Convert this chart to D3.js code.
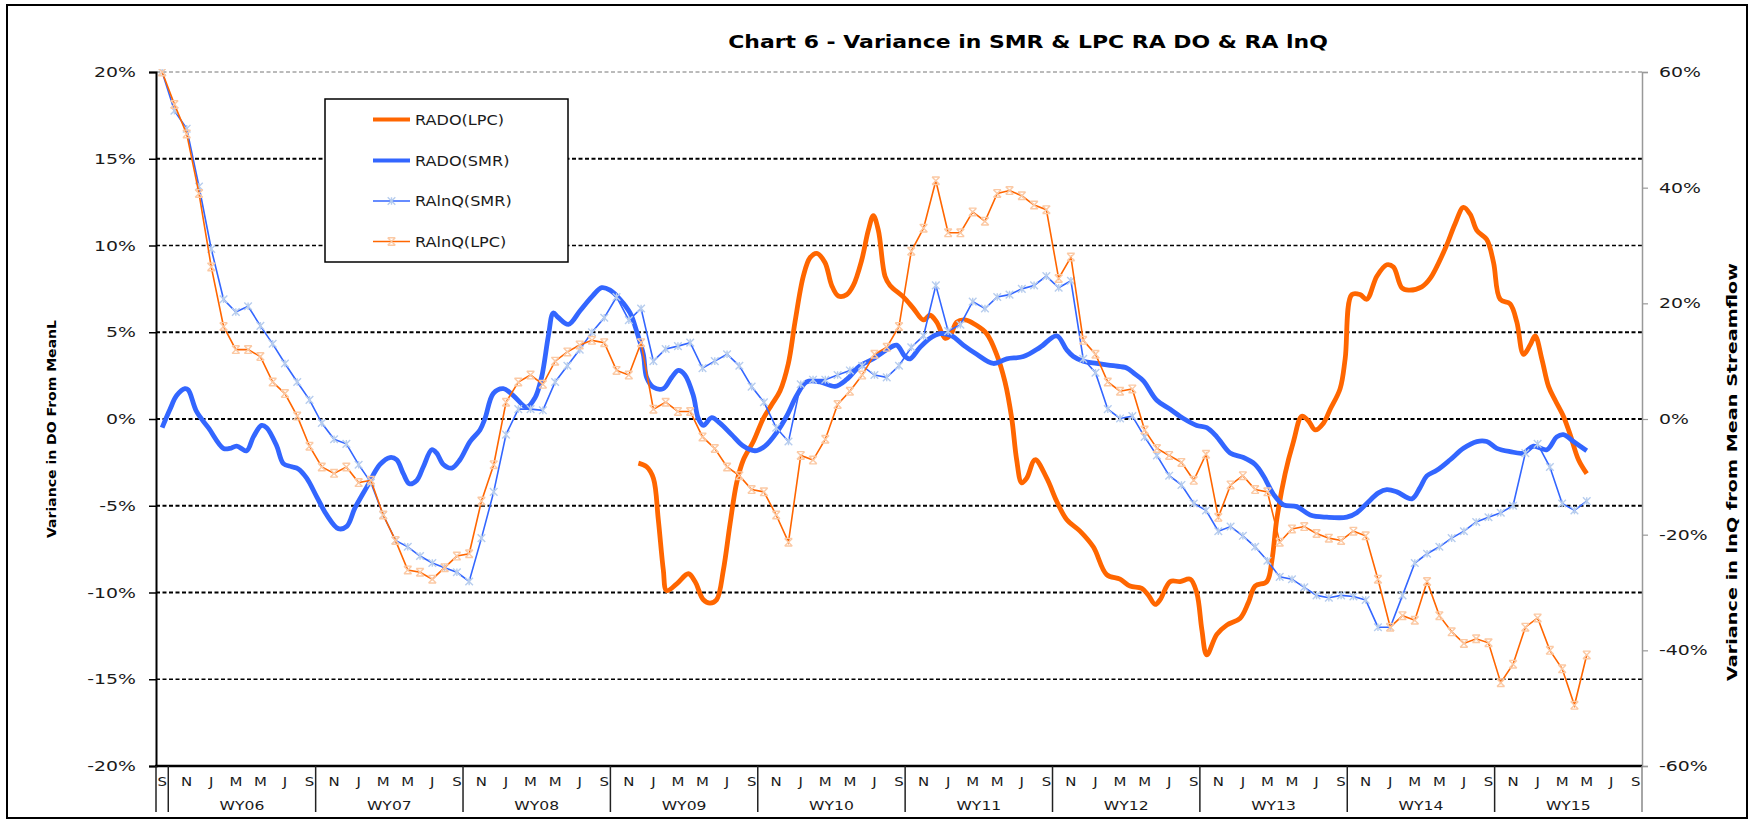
<!DOCTYPE html>
<html><head><meta charset="utf-8">
<script src="https://cdn.jsdelivr.net/npm/d3@7"></script>
<style>
body{margin:0;background:#fff;}
text{font-family:"DejaVu Sans",Verdana,sans-serif;}
</style>
</head><body>
<svg id="chart" width="1754" height="821"></svg>
<script>
// ---------- DATA ----------
const chartTitle = "Chart 6 - Variance in SMR & LPC RA DO & RA lnQ";
const leftAxisTitle = "Variance in DO From MeanL";
const rightAxisTitle = "Variance in lnQ from Mean Streamflow";
const seriesNames = ["RADO(LPC)", "RADO(SMR)", "RAlnQ(SMR)", "RAlnQ(LPC)"];
const waterYears = ["WY06","WY07","WY08","WY09","WY10","WY11","WY12","WY13","WY14","WY15"];
const firstMonthLabel = "S";                       // Sep 2005, before WY06
const monthLabelsPerYear = ["N","J","M","M","J","S"]; // every second month of a water year
const leftTicks = [20,15,10,5,0,-5,-10,-15,-20];
const rightTicks = [60,40,20,0,-20,-40,-60];
const monthCount = 121; // Sep 2005 .. Sep 2015

// RAlnQ(SMR), monthly, right axis (%), index 0 = Sep 2005
const raLnqSmr = [60,53.3,50.2,40.2,29.4,20.7,18.5,19.5,16.1,13.0,9.6,6.4,3.3,-0.7,-3.5,-4.3,-7.9,-11.0,-16.6,-21.0,
 -22.1,-23.7,-24.9,-25.7,-26.5,-28.1,-20.6,-12.6,-2.7,1.7,1.7,1.5,6.4,9.2,12.0,15.0,17.5,21.1,17.1,19.1,
 10.0,12.1,12.6,13.2,8.8,10.0,11.2,9.2,5.6,2.9,-1.5,-3.9,6.0,6.8,6.8,7.6,8.4,9.2,7.6,7.2,
 9.2,12.4,14.4,23.1,15.2,16.3,20.3,19.1,21.1,21.5,22.5,23.1,24.7,22.7,23.9,10.4,8.0,1.7,0.1,0.5,
 -3.1,-6.3,-9.8,-11.4,-14.6,-15.8,-19.4,-18.6,-20.2,-22.1,-24.5,-27.3,-27.7,-29.1,-30.5,-30.9,-30.5,-30.7,-31.3,-36.0,
 -36.0,-30.5,-24.9,-23.3,-22.1,-20.6,-19.4,-17.8,-17.0,-16.2,-15.0,-5.9,-4.3,-8.3,-14.6,-15.8,-14.2];

// RAlnQ(LPC), monthly, right axis (%)
const raLnqLpc = [60,54.4,49.3,39.0,26.3,16.0,12.0,12.0,10.8,6.4,4.4,0.5,-4.7,-8.3,-9.4,-8.3,-11.0,-10.6,-16.6,-21.0,
 -26.1,-26.5,-27.7,-25.7,-23.7,-23.3,-14.2,-7.9,2.9,6.4,7.6,6.0,10.0,11.6,12.8,13.6,13.2,8.4,7.6,13.2,
 1.7,2.9,1.3,1.3,-3.1,-5.1,-8.3,-9.8,-12.2,-12.6,-16.6,-21.3,-6.3,-7.1,-3.5,2.5,4.8,7.6,11.2,12.4,
 16.0,29.0,33.0,41.2,32.2,32.2,35.8,34.2,39.0,39.5,38.6,37.0,36.2,24.3,28.0,13.6,11.2,6.4,4.8,5.2,
 -1.9,-5.1,-6.3,-7.5,-10.6,-6.1,-17.0,-11.4,-9.8,-12.2,-12.6,-21.3,-19.0,-18.6,-19.8,-20.6,-21.0,-19.4,-20.2,-27.7,
 -36.0,-34.0,-34.8,-28.1,-34.0,-36.8,-38.8,-38.0,-38.7,-45.6,-42.4,-36.0,-34.4,-40.0,-43.2,-49.5,-40.8];

// RADO(SMR), left axis (%), [month position, value]
const raDoSmr = [[0.0,-0.5],[0.64,0.56],[1.18,1.35],[1.86,1.75],[2.13,1.67],[2.81,0.42],[3.76,-0.5],[4.98,-1.69],[5.5,-1.7],[6.07,-1.56],
 [6.88,-1.83],[7.43,-1.03],[8.1,-0.37],[8.51,-0.5],[9.33,-1.56],[9.87,-2.57],[10.55,-2.75],[11.09,-2.88],[11.77,-3.41],[12.58,-4.47],
 [13.4,-5.53],[14.35,-6.32],[15.03,-6.19],[15.7,-5.13],[16.65,-3.94],[17.74,-2.62],[18.55,-2.22],[19.1,-2.35],[19.64,-3.15],[20.13,-3.73],
 [20.73,-3.54],[21.27,-2.75],[21.95,-1.77],[22.35,-1.96],[22.9,-2.62],[23.58,-2.83],[24.25,-2.35],[25.07,-1.3],[25.88,-0.63],[26.29,0.03],
 [26.97,1.48],[27.78,1.75],[28.6,1.35],[29.68,0.69],[30.36,1.22],[30.9,2.41],[31.45,4.79],[31.85,6.11],[32.26,5.85],[33.08,5.45],
 [34.03,6.24],[34.98,7.04],[35.79,7.57],[36.47,7.43],[37.28,6.9],[38.1,6.11],[38.64,5.05],[39.18,3.73],[39.45,2.4],[40.0,1.83],
 [40.81,1.75],[41.49,2.4],[42.03,2.8],[42.57,2.54],[43.25,1.35],[43.66,0.03],[44.07,-0.37],[44.75,0.08],[45.42,-0.24],[46.37,-0.9],
 [47.32,-1.56],[48.27,-1.83],[49.09,-1.56],[50.04,-0.77],[50.85,0.16],[51.67,1.35],[52.48,2.14],[53.57,2.14],[54.79,1.88],[55.74,2.28],
 [56.83,3.07],[57.91,3.47],[59.0,3.99],[59.81,4.26],[60.49,3.6],[60.9,3.47],[61.71,4.13],[62.53,4.66],[63.34,4.92],[64.29,4.79],
 [65.24,4.26],[66.33,3.73],[67.68,3.2],[68.77,3.47],[70.13,3.6],[71.48,4.13],[72.84,4.79],[73.65,3.99],[74.2,3.6],[75.01,3.33],
 [76.1,3.2],[77.45,3.07],[78.54,2.94],[79.2,2.6],[79.9,2.2],[80.99,1.08],[82.08,0.56],[83.16,0.03],[84.25,-0.37],[85.06,-0.5],
 [85.88,-1.03],[86.96,-1.96],[88.05,-2.22],[89.0,-2.62],[89.68,-3.28],[90.49,-4.34],[91.31,-4.95],[92.39,-5.05],[93.48,-5.53],[94.84,-5.66],
 [96.46,-5.66],[97.28,-5.4],[98.09,-4.87],[99.04,-4.26],[99.72,-4.07],[100.54,-4.2],[101.76,-4.6],[102.44,-3.94],[102.98,-3.28],[103.79,-2.96],
 [104.88,-2.35],[105.96,-1.69],[107.05,-1.3],[107.86,-1.3],[108.68,-1.69],[109.76,-1.88],[110.85,-1.96],[111.66,-1.56],[112.75,-1.77],[113.56,-1.03],
 [114.1,-0.9],[114.92,-1.3],[116.0,-1.83]];

// RADO(LPC), left axis (%), [month position, value]
const raDoLpc = [[38.78,-2.54],[39.45,-2.75],[40.0,-3.41],[40.4,-5.79],[40.81,-8.7],[41.08,-9.89],[41.9,-9.5],[42.85,-8.92],[43.39,-9.37],[44.07,-10.42],
 [44.61,-10.61],[45.15,-10.42],[45.7,-8.7],[46.24,-6.06],[46.78,-3.68],[47.33,-2.35],[48.14,-1.3],[48.95,0.03],[49.63,0.82],[50.31,1.61],
 [50.99,3.2],[51.53,5.58],[52.21,8.23],[52.75,9.29],[53.3,9.55],[53.97,9.02],[54.52,7.7],[55.06,7.09],[55.74,7.17],[56.28,7.7],
 [56.96,9.15],[57.5,10.87],[57.91,11.72],[58.32,10.87],[58.86,8.23],[59.27,7.7],[60.35,7.04],[61.17,6.38],[61.98,5.71],[62.53,5.98],
 [63.07,5.58],[63.75,4.66],[64.15,4.79],[64.7,5.58],[65.38,5.71],[66.19,5.45],[67.14,4.92],[67.95,3.73],[68.63,2.14],[69.18,0.03],
 [69.58,-2.35],[69.99,-3.68],[70.4,-3.41],[71.08,-2.35],[72.03,-3.41],[72.84,-4.74],[73.65,-5.79],[74.74,-6.46],[75.83,-7.38],[76.91,-8.97],
 [78.0,-9.23],[78.81,-9.63],[79.77,-9.76],[80.31,-10.16],[80.86,-10.69],[81.26,-10.42],[82.08,-9.37],[82.89,-9.37],[83.71,-9.23],[84.25,-10.03],
 [84.66,-12.14],[85.06,-13.6],[85.88,-12.41],[86.69,-11.88],[87.78,-11.48],[88.46,-10.56],[89.0,-9.63],[89.95,-9.37],[90.36,-8.17],[90.76,-5.79],
 [91.44,-3.15],[92.12,-1.3],[92.8,0.16],[93.34,-0.11],[93.89,-0.63],[94.56,-0.24],[95.11,0.56],[95.92,1.75],[96.33,3.47],[96.87,7.17],
 [97.55,7.17],[98.09,6.9],[98.91,8.23],[99.72,8.89],[100.26,8.76],[100.94,7.57],[101.49,7.43],[102.57,7.62],[103.25,8.1],[104.47,9.81],
 [105.29,11.27],[105.96,12.2],[106.51,11.8],[107.05,10.87],[107.86,10.34],[108.41,9.02],[108.95,6.9],[109.76,6.64],[110.31,5.58],[110.85,3.73],
 [111.39,4.26],[111.8,4.79],[112.34,3.47],[112.89,1.88],[113.43,1.08],[114.1,0.16],[114.65,-0.9],[115.33,-2.35],[116.0,-3.15]];

// ---------- LAYOUT / STYLE ----------
const W = 1754, H = 821;
const plot = {left: 156, right: 1642, top: 72, bottom: 766};
const orange = "#ff6600", blue = "#3366ff";
const orangeMarker = "#fbc9a4", blueMarker = "#b7cdee";
const sx = 1.22; // horizontal text stretch of reference

const svg = d3.select("#chart");
svg.append("rect").attr("x",0).attr("y",0).attr("width",W).attr("height",H).attr("fill","#fff");
svg.append("rect").attr("x",7).attr("y",5).attr("width",1740).attr("height",813)
  .attr("fill","none").attr("stroke","#000").attr("stroke-width",2);

const x = d3.scaleLinear().domain([0, monthCount]).range([plot.left, plot.right]);
const yL = d3.scaleLinear().domain([-20, 20]).range([plot.bottom, plot.top]);
const yR = d3.scaleLinear().domain([-60, 60]).range([plot.bottom, plot.top]);

function txt(g, tx, ty, s, o) {
  o = o || {};
  const t = g.append("text")
    .attr("transform", `translate(${tx},${ty}) scale(${o.sx || sx},1)` + (o.rot ? ` rotate(${o.rot})` : ""))
    .attr("text-anchor", o.anchor || "middle")
    .attr("font-size", o.size || 14)
    .attr("font-weight", o.bold ? "bold" : "normal")
    .attr("fill", o.fill || "#1a1a1a")
    .text(s);
  if (o.len) t.attr("textLength", o.len).attr("lengthAdjust", "spacingAndGlyphs");
  return t;
}

// Title
txt(svg, 1028, 48, chartTitle, {size: 18, bold: true, sx: 1.22, fill: "#000"});

// Gridlines
const gridW = {"20":1, "15":2, "10":1.3, "5":2, "0":2, "-5":2, "-10":2, "-15":1.3, "-20":0};
const grid = svg.append("g");
leftTicks.filter(t => t !== -20).forEach(t => {
  grid.append("line").attr("x1", plot.left).attr("x2", plot.right)
    .attr("y1", yL(t)).attr("y2", yL(t))
    .attr("stroke", t === 20 ? "#777" : "#000")
    .attr("stroke-width", gridW[String(t)])
    .attr("stroke-dasharray", "4,2.5");
});

// Left axis
const axL = svg.append("g").attr("transform", `translate(${plot.left},0)`)
  .call(d3.axisLeft(yL).tickValues(leftTicks).tickSize(7).tickFormat(() => ""));
axL.select(".domain").attr("stroke", "#000").attr("stroke-width", 2);
axL.selectAll(".tick line").attr("stroke", "#000").attr("stroke-width", 1.5);
leftTicks.forEach(t => txt(svg, 136, yL(t) + 5, t + "%", {anchor: "end", size: 14, sx: 1.35}));

// Right axis
const axR = svg.append("g").attr("transform", `translate(${plot.right},0)`)
  .call(d3.axisRight(yR).tickValues(rightTicks).tickSize(6).tickFormat(() => ""));
axR.select(".domain").attr("stroke", "#999").attr("stroke-width", 1.5);
axR.selectAll(".tick line").attr("stroke", "#999").attr("stroke-width", 1.2);
rightTicks.forEach(t => txt(svg, 1659, yR(t) + 5, t + "%", {anchor: "start", size: 14, sx: 1.35}));

// Axis titles
txt(svg, 56, 429, leftAxisTitle, {rot: -90, size: 13, bold: true, sx: 1, fill: "#000", len: 218});
txt(svg, 1737, 472, rightAxisTitle, {rot: -90, size: 13.5, bold: true, sx: 1, fill: "#000", len: 418});

// Category axis (two level)
const cat = svg.append("g");
cat.append("line").attr("x1", plot.left - 1).attr("x2", plot.right).attr("y1", plot.bottom).attr("y2", plot.bottom)
  .attr("stroke", "#000").attr("stroke-width", 2.5);
const groupBounds = [0, 1].concat(waterYears.map((w, k) => 13 + 12 * k));
groupBounds.forEach(b => {
  cat.append("line").attr("x1", x(b)).attr("x2", x(b)).attr("y1", plot.bottom).attr("y2", 812)
    .attr("stroke", b === monthCount ? "#888" : "#222").attr("stroke-width", 1.5);
});
txt(cat, x(0.5), 786, firstMonthLabel, {size: 11.5, sx: 1.3});
waterYears.forEach((w, k) => {
  const start = 1 + 12 * k;
  monthLabelsPerYear.forEach((m, j) => {
    txt(cat, x(start + 1 + 2 * j + 0.5), 786, m, {size: 11.5, sx: 1.3});
  });
  txt(cat, x(start + 6), 810, w, {size: 12, sx: 1.3});
});

// Clip
svg.append("clipPath").attr("id", "clip").append("rect")
  .attr("x", plot.left).attr("y", plot.top - 3).attr("width", plot.right - plot.left).attr("height", plot.bottom - plot.top + 3);
const lines = svg.append("g").attr("clip-path", "url(#clip)");

const smooth = d3.line().x(d => x(d[0] + 0.5)).y(d => yL(d[1])).curve(d3.curveCatmullRom.alpha(0.5));
const monthly = d3.line().defined(d => d != null).x((d, i) => x(i + 0.5)).y(d => yR(d));

lines.append("path").datum(raDoLpc).attr("d", smooth).attr("fill", "none")
  .attr("stroke", orange).attr("stroke-width", 4.8).attr("stroke-linejoin", "round");
lines.append("path").datum(raDoSmr).attr("d", smooth).attr("fill", "none")
  .attr("stroke", blue).attr("stroke-width", 4.8).attr("stroke-linejoin", "round");

function star(g, cx, cy, col, hour) {
  const r = 3.8;
  const p = `M${cx - r},${cy - r}L${cx + r},${cy + r}M${cx + r},${cy - r}L${cx - r},${cy + r}` +
    (hour ? `M${cx - r},${cy - r}L${cx + r},${cy - r}M${cx - r},${cy + r}L${cx + r},${cy + r}`
          : `M${cx},${cy - r}L${cx},${cy + r}`);
  g.append("path").attr("d", p).attr("stroke", col).attr("stroke-width", 1.4).attr("fill", "none");
}

lines.append("path").datum(raLnqSmr).attr("d", monthly).attr("fill", "none")
  .attr("stroke", blue).attr("stroke-width", 1.6);
const mkS = lines.append("g");
raLnqSmr.forEach((v, i) => star(mkS, x(i + 0.5), yR(v), blueMarker, false));

lines.append("path").datum(raLnqLpc).attr("d", monthly).attr("fill", "none")
  .attr("stroke", orange).attr("stroke-width", 1.6);
const mkL = lines.append("g");
raLnqLpc.forEach((v, i) => star(mkL, x(i + 0.5), yR(v), orangeMarker, true));

// Legend
const lg = svg.append("g");
lg.append("rect").attr("x", 325).attr("y", 99).attr("width", 243).attr("height", 163)
  .attr("fill", "#fff").attr("stroke", "#000").attr("stroke-width", 1.5);
const rowsY = [119.5, 160.5, 201, 241.5];
const legStyle = [
  {c: orange, w: 4, m: null},
  {c: blue, w: 4, m: null},
  {c: blue, w: 1.6, m: blueMarker, hour: false},
  {c: orange, w: 1.6, m: orangeMarker, hour: true}
];
seriesNames.forEach((n, k) => {
  const yy = rowsY[k], st = legStyle[k];
  lg.append("line").attr("x1", 373).attr("x2", 410).attr("y1", yy).attr("y2", yy)
    .attr("stroke", st.c).attr("stroke-width", st.w);
  if (st.m) star(lg, 391.5, yy, st.m, st.hour);
  txt(lg, 415, yy + 5, n, {anchor: "start", size: 14, sx: 1.15});
});
</script>
</body></html>
